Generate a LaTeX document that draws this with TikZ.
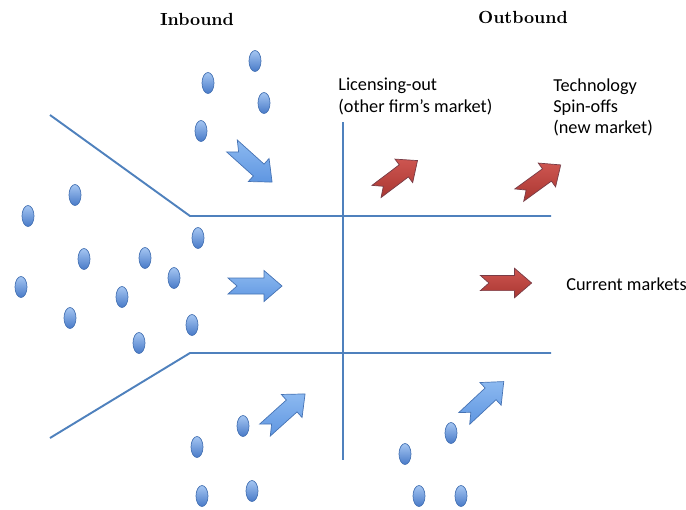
\documentclass[tikz,border=0pt]{standalone}
\usepackage{fontspec}
\newfontfamily\calibri{Carlito}
\usetikzlibrary{positioning}
\definecolor{funnel}{RGB}{79,129,189}
\definecolor{dotlight}{RGB}{165,198,242}
\definecolor{dotdark}{RGB}{72,122,200}
\definecolor{dotedge}{RGB}{70,115,180}
\definecolor{arrowlight}{RGB}{140,185,240}
\definecolor{arrowdark}{RGB}{95,150,225}
\definecolor{redlight}{RGB}{205,85,80}
\definecolor{reddark}{RGB}{170,55,50}
\definecolor{rededge}{RGB}{120,60,70}
\tikzset{
	idea/.style={top color=dotlight, bottom color=dotdark, draw=dotedge, line width=0.4pt},
	inarrow/.style={top color=arrowlight, bottom color=arrowdark, draw=dotedge, line width=0.4pt},
	outarrow/.style={top color=redlight, bottom color=reddark, draw=rededge, line width=0.4pt},
	wall/.style={draw=funnel, line width=1.1pt},
	heading/.style={font=\bfseries, inner sep=0pt},
	marketlabel/.style={font=\calibri\fontsize{10.4}{12.2}\selectfont, inner sep=0pt, align=left},
}

\begin{document}
\begin{tikzpicture}[x=0.02cm, y=-0.02cm]
		\useasboundingbox (0,0) rectangle (686,510);

		%draw funnel and border
		\draw [wall] (50,115) -- (190,216) -- (551,216);
		\draw [wall] (50,438) -- (190,353) -- (551,353);
		\draw [wall] (343,122) -- (343,460);

		%draw ideas
		\foreach \x/\y in {255/61, 208/83, 264/103, 201/131,
			75/195, 28/216, 198/238, 84/259, 145/258, 21/287, 174/278,
			122/297, 70/318, 192/325, 139/343,
			243/426, 197/447, 202/496, 252/491,
			451/433, 405/454, 419/496, 461/496}
		\path[idea] (\x,\y) ellipse [x radius=6, y radius=10.5];

		%inbound arrows
		\foreach \x/\y/\a in {252/164/-42, 255/286/0, 285/412/42, 484/400/43}
		\path[inarrow, shift={(\x,\y)}, rotate=\a]
			(-27,8) -- (9,8) -- (9,15.5) -- (27,0) -- (9,-15.5) -- (9,-8) -- (-27,-8) -- (-18,0) -- cycle;

		%outbound arrows
		\foreach \x/\y/\a in {397/176/37, 540/180/36, 506/283/0}
		\path[outarrow, shift={(\x,\y)}, rotate=\a, scale=0.95]
			(-27,8) -- (9,8) -- (9,15.5) -- (27,0) -- (9,-15.5) -- (9,-8) -- (-27,-8) -- (-18,0) -- cycle;

		%headings & markets
		\node[heading, anchor=base] (inbound) at (197,26) {Inbound};
		\node[heading, anchor=base] (outbound) at (523,24) {Outbound};
		\node[marketlabel, anchor=north west] (licensing) at (338,78) {Licensing-out\\(other firm’s market)};
		\node[marketlabel, anchor=north west] (spinoffs) at (553,78) {Technology\\Spin-offs\\(new market)};
		\node[marketlabel, anchor=base west] (current) at (566,290) {Current markets};
	\end{tikzpicture}
\end{document}
